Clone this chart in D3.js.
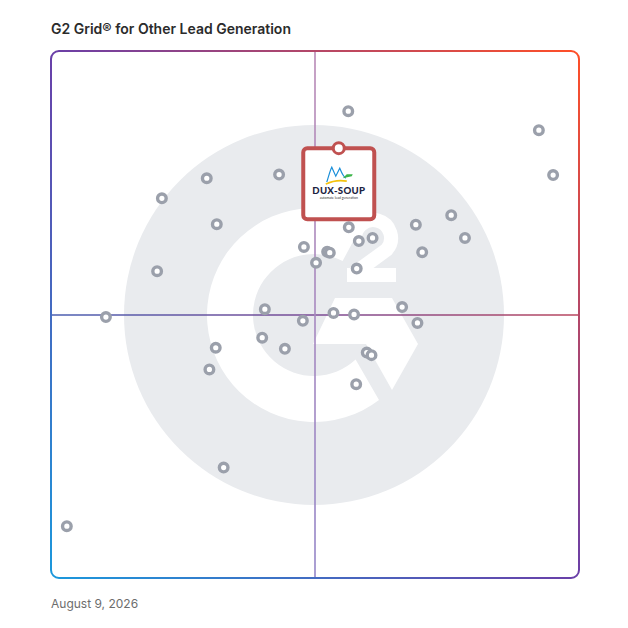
<!DOCTYPE html>
<html><head><meta charset="utf-8">
<script src="https://cdn.jsdelivr.net/npm/d3@7"></script>
<style>body{margin:0;background:#fff}svg{display:block}</style>
</head><body><svg id="chart" width="628" height="628"></svg>
<script>
// ---- data ----
const chartTitle = "G2 Grid® for Other Lead Generation";
const dateLabel = "August 9, 2026";
// satisfaction (x) and market presence (y), 0..100 scale
const productX = [56.3,92.4,95.1,29.5,43.2,21.0,31.4,20.1,56.4,58.3,60.9,69.1,75.8,78.4,70.3,47.9,52.3,52.8,50.2,57.9,40.5,47.7,53.5,57.4,66.5,69.4,40.0,44.3,31.2,30.0,59.8,60.7,57.8,32.7,10.4,3.0];
const productY = [88.6,85.0,76.5,75.9,76.6,72.1,67.2,58.3,66.6,64.0,64.6,67.1,68.9,64.6,61.9,62.9,62.0,61.8,59.9,58.8,51.1,48.9,50.4,50.1,51.5,48.5,45.7,43.6,43.8,39.7,42.9,42.4,36.9,21.1,49.6,10.0];
const featuredName = ["DUX-SOUP"];
const featuredTagline = ["automate lead generation"];
const featuredX = [54.5];
const featuredY = [81.6];

// ---- drawing ----
const svg = d3.select("#chart");
const x = d3.scaleLinear().domain([0,100]).range([51,579]);
const y = d3.scaleLinear().domain([0,100]).range([579,51]);

const defs = svg.append("defs");
const bg = defs.append("linearGradient").attr("id","border").attr("x1",0).attr("y1",1).attr("x2",1).attr("y2",0);
bg.append("stop").attr("offset",0).attr("stop-color","#1b98dc");
bg.append("stop").attr("offset",0.5).attr("stop-color","#6a3fa8");
bg.append("stop").attr("offset",1).attr("stop-color","#ff4f27");
const hg = defs.append("linearGradient").attr("id","hline").attr("gradientUnits","userSpaceOnUse")
  .attr("x1",x(0)).attr("y1",0).attr("x2",x(100)).attr("y2",0);
hg.append("stop").attr("offset",0).attr("stop-color","#4a5fb1");
hg.append("stop").attr("offset",0.5).attr("stop-color","#7a4b95");
hg.append("stop").attr("offset",1).attr("stop-color","#b9465e");
const vg = defs.append("linearGradient").attr("id","vline").attr("gradientUnits","userSpaceOnUse")
  .attr("x1",0).attr("y1",y(100)).attr("x2",0).attr("y2",y(0));
vg.append("stop").attr("offset",0).attr("stop-color","#b98ab6");
vg.append("stop").attr("offset",1).attr("stop-color","#9486c8");

// title
svg.append("text").attr("x",51).attr("y",34).text(chartTitle)
  .attr("font-family","Inter, 'Noto Sans', sans-serif").attr("font-weight",600)
  .attr("font-size",14).attr("fill","#2b2b2b");
svg.append("text").attr("x",51).attr("y",608).text(dateLabel)
  .attr("font-family","Inter, 'Noto Sans', sans-serif").attr("font-weight",400)
  .attr("font-size",12).attr("fill","#6d6d6d");

// G2 watermark
const cx = x(50) - 1, cy = y(50);
const wm = svg.append("g").attr("transform",`translate(${cx},${cy})`);
wm.append("circle").attr("r",190).attr("fill","#e9ebee");
wm.append("path").attr("fill","#fff")
  .attr("d","M50.2,-94.5 A107,107 0 1 0 65,85 L41.6,44.6 A61,61 0 1 1 28.6,-53.9 Z");
wm.append("path").attr("fill","#fff")
  .attr("d","M21,-17 L78,-17 L104,29 L78,75 L52,29 L-1,29 Z");
wm.append("path").attr("fill","none").attr("stroke","#fff").attr("stroke-width",14)
  .attr("d","M41.3,-73.9 A18,18 0 1 1 72.8,-65.4 L38,-40");
wm.append("rect").attr("x",33).attr("y",-47).attr("width",49).attr("height",14).attr("fill","#fff");

// quadrant lines
svg.append("line").attr("x1",x(0)).attr("x2",x(100)).attr("y1",y(50)).attr("y2",y(50))
  .attr("stroke","url(#hline)").attr("stroke-width",1.6);
svg.append("line").attr("x1",x(50)).attr("x2",x(50)).attr("y1",y(100)).attr("y2",y(0))
  .attr("stroke","url(#vline)").attr("stroke-width",1.6);

// border
svg.append("rect").attr("x",x(0)).attr("y",y(100)).attr("width",x(100)-x(0)).attr("height",y(0)-y(100)-1)
  .attr("rx",8).attr("fill","none").attr("stroke","url(#border)").attr("stroke-width",2);

// products
svg.append("g").selectAll("circle").data(productX.map((v,i)=>[v,productY[i]])).join("circle")
  .attr("cx",d=>x(d[0])).attr("cy",d=>y(d[1])).attr("r",4.3)
  .attr("fill","#fff").attr("stroke","#9ba0ab").attr("stroke-width",3.4);

// featured product
featuredX.forEach((fx,i)=>{
  const g = svg.append("g").attr("transform",`translate(${x(fx)},${y(featuredY[i])})`);
  g.append("rect").attr("x",-35.5).attr("y",0).attr("width",71).attr("height",71).attr("rx",4)
    .attr("fill","#fff").attr("stroke","#c05150").attr("stroke-width",4);
  g.append("circle").attr("r",5.5).attr("fill","#fff").attr("stroke","#c05150").attr("stroke-width",3);
  // bird icon
  g.append("path").attr("fill","none").attr("stroke","#1b8fd8").attr("stroke-width",1.2)
    .attr("d","M-12,34 C-10,28 -9,23 -7,19 L-3,28 L1,20 C3,25 4,28 7,30");
  g.append("path").attr("fill","none").attr("stroke","#f4c20d").attr("stroke-width",1.6)
    .attr("d","M-13,36 Q-3,31 8,33");
  g.append("path").attr("fill","#3db54a").attr("d","M4,30 L13,28 L14,26 L8,26 Z");
  g.append("text").attr("x",0).attr("y",46).attr("text-anchor","middle").text(featuredName[i])
    .attr("font-family","Lato, sans-serif").attr("font-weight",900).attr("font-size",9.6)
    .attr("letter-spacing",0.3).attr("fill","#1c2341");
  g.append("text").attr("x",0).attr("y",50.5).attr("text-anchor","middle").text(featuredTagline[i])
    .attr("font-family","Lato, sans-serif").attr("font-size",3.4).attr("fill","#333");
});
</script></body></html>
